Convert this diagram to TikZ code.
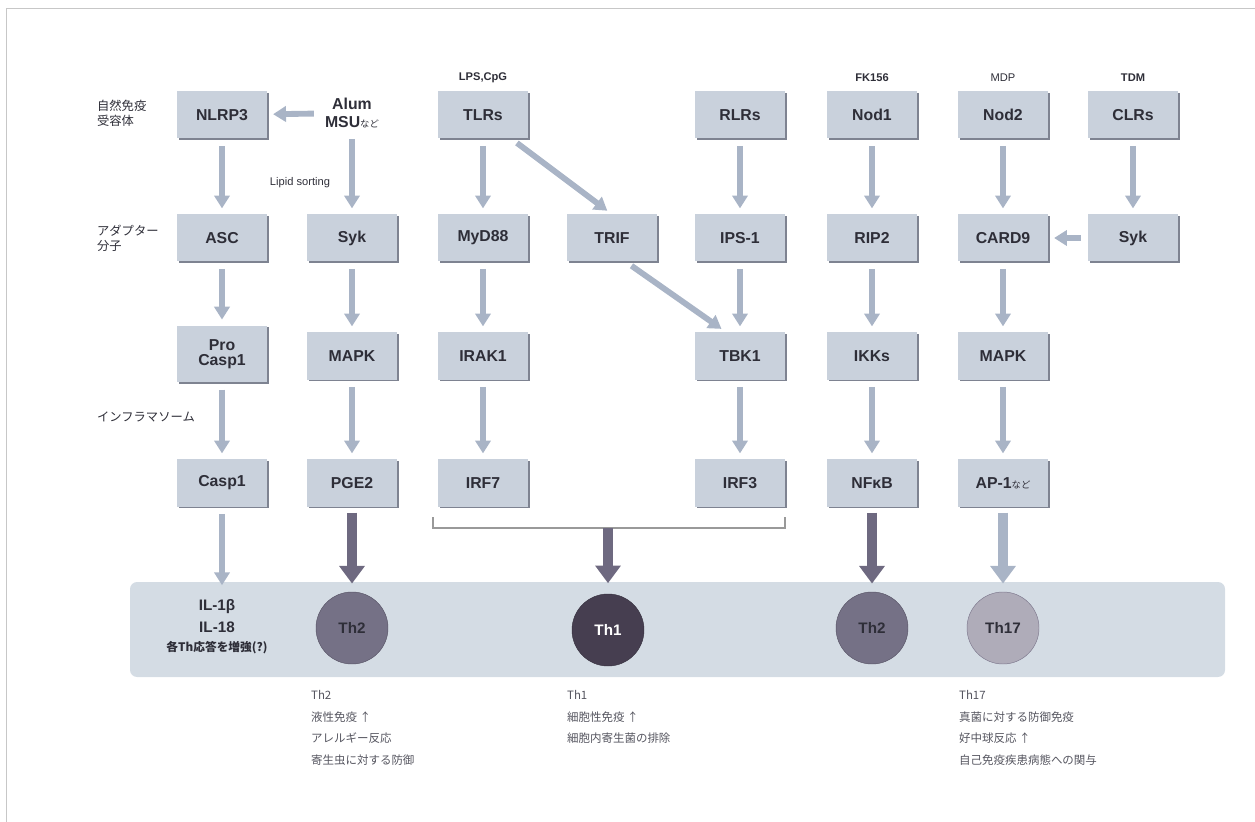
\documentclass[tikz,border=0pt]{standalone}
\usepackage{fontspec}
\setmainfont{Liberation Sans}
\newfontfamily\jp{Noto Sans CJK JP}
\usetikzlibrary{arrows.meta,shadows}

\definecolor{boxfill}{HTML}{C9D1DC}
\definecolor{boxedge}{HTML}{7E8391}
\definecolor{sigcol}{HTML}{A9B4C6}
\definecolor{fatecol}{HTML}{6E6980}
\definecolor{bandfill}{HTML}{D4DCE4}
\definecolor{txtdark}{HTML}{2E2E38}
\definecolor{txtgray}{HTML}{55555F}
\definecolor{thonecol}{HTML}{463E50}

\begin{document}
\begin{tikzpicture}[x=0.03cm,y=-0.03cm,
    box/.style={fill=boxfill,minimum width=2.7cm,minimum height=1.41cm,inner sep=0pt,
      align=center,text=txtdark,font=\fontsize{13.5}{15}\selectfont\bfseries,
      drop shadow={shadow xshift=1.3pt,shadow yshift=-1.3pt,fill=boxedge,opacity=1}},
    cell/.style={circle,minimum size=2.16cm,inner sep=0pt,font=\fontsize{13}{15}\selectfont\bfseries},
    sig/.style={draw=sigcol,line width=5pt,-{Triangle[width=13pt,length=11pt]},
      shorten <=6pt,shorten >=5pt},
    fate/.style={draw=fatecol,line width=8.5pt,-{Triangle[width=21pt,length=15pt]},
      shorten <=5pt,shorten >=7pt},
    side/.style={font=\jp\fontsize{10.5}{13}\selectfont,text=txtdark,align=left,anchor=west},
    ligand/.style={font=\fontsize{9.5}{11}\selectfont\bfseries,text=txtdark},
    note/.style={font=\jp\fontsize{9.8}{18.6}\selectfont,text=txtgray,align=left,anchor=north west}]

  \useasboundingbox (0,0) rectangle (1255,822);
  \draw[black!22,line width=0.6pt] (6,822) -- (6,8) -- (1255,8);

  % band of T helper cells
  \fill[bandfill,rounded corners=6pt] (130,582) rectangle (1225,677);

  % side labels
  \node[side] (lrec)  at (93,113) {自然免疫\\受容体};
  \node[side] (ladap) at (93,238) {アダプター\\分子};
  \node[side] (linfl) at (93,417) {インフラマソーム};

  % ligands
  \node[ligand] (lps)  at (483,78) {LPS,CpG};
  \node[ligand] (fk)   at (872,78) {FK156};
  \node[ligand,font=\fontsize{9.5}{11}\selectfont] (mdp) at (1003,78) {MDP};
  \node[ligand] (tdm)  at (1133,78) {TDM};
  \node[font=\fontsize{13.5}{15}\selectfont\bfseries,text=txtdark,align=center] (alum) at (352,113)
    {Alum\\MSU{\jp\fontsize{8}{9}\selectfont\mdseries など}};
  \node[font=\fontsize{9.5}{11}\selectfont,text=txtdark] (lipid) at (300,183) {Lipid sorting};

  \begin{scope}[every node/.style={box}]
    \node (nlrp)  at (222,115) {NLRP3};
    \node (tlr)   at (483,115) {TLRs};
    \node (rlr)   at (740,115) {RLRs};
    \node (nod1)  at (872,115) {Nod1};
    \node (nod2)  at (1003,115) {Nod2};
    \node (clr)   at (1133,115) {CLRs};

    \node (asc)   at (222,238) {ASC};
    \node (syka)  at (352,238) {Syk};
    \node (myd)   at (483,238) {MyD88};
    \node (trif)  at (612,238) {TRIF};
    \node (ips)   at (740,238) {IPS-1};
    \node (rip)   at (872,238) {RIP2};
    \node (card)  at (1003,238) {CARD9};
    \node (sykb)  at (1133,238) {Syk};

    \node[minimum height=1.7cm] (pcasp) at (222,354) {Pro\\[-2pt]Casp1};
    \node (mapka) at (352,356) {MAPK};
    \node (irak)  at (483,356) {IRAK1};
    \node (tbk)   at (740,356) {TBK1};
    \node (ikk)   at (872,356) {IKKs};
    \node (mapkb) at (1003,356) {MAPK};

    \node (casp)  at (222,483) {Casp1};
    \node (pge)   at (352,483) {PGE2};
    \node (irf7)  at (483,483) {IRF7};
    \node (irf3)  at (740,483) {IRF3};
    \node (nfkb)  at (872,483) {NFκB};
    \node (ap)    at (1003,483) {AP-1{\jp\fontsize{8}{9}\selectfont\mdseries など}};
  \end{scope}

  % helper cells
  \node[cell,fill=fatecol!95!white,draw=fatecol!80!black,text=txtdark] (th2a) at (352,628) {Th2};
  \node[cell,fill=thonecol,draw=thonecol!80!black,text=white] (th1) at (608,630) {Th1};
  \node[cell,fill=fatecol!95!white,draw=fatecol!80!black,text=txtdark] (th2b) at (872,628) {Th2};
  \node[cell,fill=fatecol!55!white,draw=fatecol!90,text=txtdark] (th17) at (1003,628) {Th17};

  \node[font=\fontsize{13}{15}\selectfont\bfseries,text=txtdark] (il1b) at (217,607) {IL-1β};
  \node[font=\fontsize{13}{15}\selectfont\bfseries,text=txtdark] (il18) at (217,627) {IL-18};
  \node[font=\jp\fontsize{10}{12}\selectfont\bfseries,text=txtdark] (enh) at (217,648) {各Th応答を増強(?)};

  % bracket under IRF7 / IRF3
  \coordinate (brl) at (433,517);
  \coordinate (brr) at (785,517);
  \coordinate (brm) at (608,528);
  \draw[black!40,line width=1.2pt] (brl) -- (433,528) -- (785,528) -- (brr);

  % signalling arrows
  \draw[sig] (alum) -- (nlrp);
  \draw[sig] (nlrp) -- (asc);
  \draw[sig] (alum) -- (syka);
  \draw[sig] (tlr) -- (myd);
  \draw[sig] (tlr.-40) -- (trif.north);
  \draw[sig] (rlr) -- (ips);
  \draw[sig] (nod1) -- (rip);
  \draw[sig] (nod2) -- (card);
  \draw[sig] (clr) -- (sykb);
  \draw[sig] (sykb) -- (card);

  \draw[sig] (asc) -- (pcasp);
  \draw[sig] (syka) -- (mapka);
  \draw[sig] (myd) -- (irak);
  \draw[sig] (trif.-60) -- (tbk.120);
  \draw[sig] (ips) -- (tbk);
  \draw[sig] (rip) -- (ikk);
  \draw[sig] (card) -- (mapkb);

  \draw[sig] (pcasp) -- (casp);
  \draw[sig] (mapka) -- (pge);
  \draw[sig] (irak) -- (irf7);
  \draw[sig] (tbk) -- (irf3);
  \draw[sig] (ikk) -- (nfkb);
  \draw[sig] (mapkb) -- (ap);

  \draw[sig,shorten >=9pt] (casp) -- (il1b.north -| casp);
  \draw[fate] (pge) -- (th2a);
  \draw[fate,shorten <=0pt,shorten >=9pt] (brm) -- (th1);
  \draw[fate] (nfkb) -- (th2b);
  \draw[fate,draw=sigcol] (ap) -- (th17);

  % what each cell does
  \node[note] (n2)  at (307,686) {Th2\\液性免疫 ↑\\アレルギー反応\\寄生虫に対する防御};
  \node[note] (n1)  at (563,686) {Th1\\細胞性免疫 ↑\\細胞内寄生菌の排除};
  \node[note] (n17) at (955,686) {Th17\\真菌に対する防御免疫\\好中球反応 ↑\\自己免疫疾患病態への関与};

\end{tikzpicture}
\end{document}
